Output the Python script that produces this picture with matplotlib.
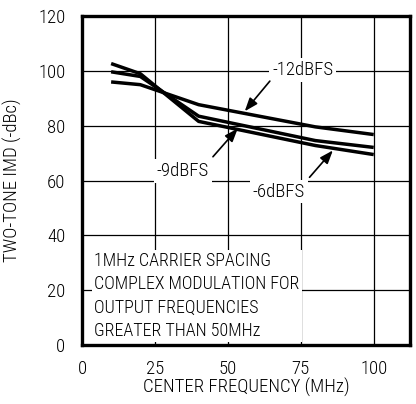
import matplotlib
matplotlib.use("Agg")
import matplotlib.pyplot as plt

plt.rcParams['font.family'] = ['Roboto Condensed', 'DejaVu Sans']
plt.rcParams['font.weight'] = 300
plt.rcParams['axes.labelweight'] = 300

freq = [10, 20, 40, 80, 100]
imd_m12 = [96.0, 95.0, 87.7, 79.6, 76.8]
imd_m9 = [99.7, 98.0, 83.5, 74.6, 72.1]
imd_m6 = [102.7, 99.0, 81.6, 72.8, 69.5]
x_ticks = [0, 25, 50, 75, 100]
y_ticks = [0, 20, 40, 60, 80, 100, 120]

fig = plt.figure(figsize=(4.16, 4.04), dpi=100)
ax = fig.add_axes([0.197, 0.146, 0.789, 0.814])
ax.set_xlim(0, 112.5)
ax.set_ylim(0, 120)
ax.set_xticks(x_ticks)
ax.set_yticks(y_ticks)
ax.grid(True, color='black', linewidth=0.9)
ax.tick_params(axis='x', length=0, labelsize=13.5, pad=11)
ax.tick_params(axis='y', length=0, labelsize=13.5, pad=12)
for s in ax.spines.values():
    s.set_linewidth(2.4)

for y in (imd_m12, imd_m9, imd_m6):
    ax.plot(freq, y, color='black', linewidth=2.5, solid_capstyle='butt', zorder=3)

bbox = dict(facecolor='white', edgecolor='none', pad=2)
ax.text(75.7, 100.3, "-12dBFS", fontsize=13.5, ha='center', va='center', bbox=bbox, zorder=4)
ax.text(34.6, 63.4, "-9dBFS", fontsize=13.5, ha='center', va='center', bbox=bbox, zorder=4)
ax.text(67.5, 56.0, "-6dBFS", fontsize=13.5, ha='center', va='center', bbox=bbox, zorder=4)

ap = dict(arrowstyle='-|>,head_length=0.8,head_width=0.3', color='black', lw=1.2, shrinkA=0, shrinkB=0)
ax.annotate("", xy=(55.8, 85.3), xytext=(64.4, 96.3), arrowprops=ap, zorder=5)
ax.annotate("", xy=(53.4, 79.0), xytext=(44.9, 68.7), arrowprops=ap, zorder=5)
ax.annotate("", xy=(86.0, 71.0), xytext=(78.0, 61.2), arrowprops=ap, zorder=5)

ax.text(4.3, 17.9, "1MHz CARRIER SPACING\nCOMPLEX MODULATION FOR\nOUTPUT FREQUENCIES\nGREATER THAN 50MHz",
        fontsize=13, ha='left', va='center', linespacing=1.38,
        bbox=dict(facecolor='white', edgecolor='none', pad=1.5), zorder=4)

ax.set_xlabel("CENTER FREQUENCY (MHz)", fontsize=13.5, fontweight=300)
ax.set_ylabel("TWO-TONE IMD (-dBc)", fontsize=13.5, fontweight=300)
ax.xaxis.set_label_coords(0.5, -0.10)
ax.yaxis.set_label_coords(-0.183, 0.5)

fig.savefig("out.png", dpi=100)
